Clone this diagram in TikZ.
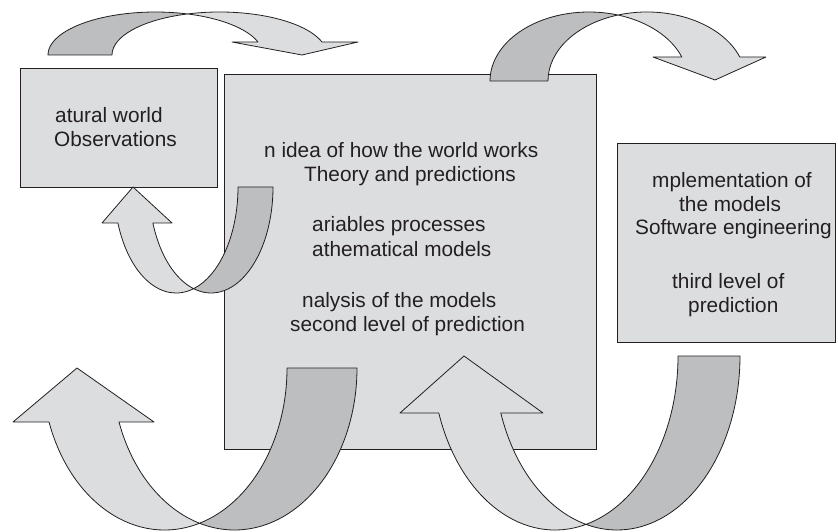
\documentclass[tikz,border=0pt]{standalone}
\usepackage{fontspec}
\setmainfont{Liberation Sans}
\definecolor{boxfill}{HTML}{DCDDDF}
\definecolor{darkfill}{HTML}{BDBEC0}
\definecolor{edge}{HTML}{231F20}
\tikzset{
  boxshape/.style={draw=edge, line width=0.9pt, fill=boxfill, rectangle, inner sep=0pt},
  darkpart/.style={draw=edge, line width=0.8pt, fill=darkfill, line join=round},
  lightpart/.style={draw=edge, line width=0.8pt, fill=boxfill, line join=round},
  lbl/.style={anchor=base west, inner sep=0pt, font=\fontsize{20.8}{24}\selectfont, text=edge}
}
% curved arrow over the top: tail bottom-left, head right pointing down
% #1 x0 (tail outer), #2 width, #3 cy, #4 rx, #5 ry, #6 head base y, #7 left barb x, #8 right barb x, #9 tip
\newcommand\overarrow[9]{%
  \pgfmathsetmacro\cL{#1+#4}%
  \pgfmathsetmacro\ph{acos(#2/(2*#4))}%
  \pgfmathsetmacro\phR{180-\ph}%
  \pgfmathsetmacro\th{asin((#6-#3)/#5)}%
  \filldraw[darkpart] (#1,#3) arc[start angle=180,end angle=\ph,x radius=#4,y radius=#5]
     arc[start angle=\phR,end angle=180,x radius=#4,y radius=#5] -- cycle;
  \filldraw[lightpart] ([shift={(\cL,#3)}]\ph:#4 and #5)
     arc[start angle=\phR,end angle=\th,x radius=#4,y radius=#5]
     -- (#8,#6) -- (#9) -- (#7,#6) -- ([shift={(\cL,#3)}]\th:#4 and #5)
     arc[start angle=\th,end angle=\ph,x radius=#4,y radius=#5] -- cycle;
}
% curved arrow under the bottom: tail top-right, head left pointing up
% #1 xo (tail outer right), #2 width, #3 cy, #4 rx, #5 ry, #6 head base y, #7 left barb x, #8 right barb x, #9 tip
\newcommand\underarrow[9]{%
  \pgfmathsetmacro\cA{#1-#4}%
  \pgfmathsetmacro\ph{acos(#2/(2*#4))}%
  \pgfmathsetmacro\phA{\ph-180}%
  \pgfmathsetmacro\phB{-\ph}%
  \pgfmathsetmacro\th{asin((#3-#6)/#5)-180}%
  \filldraw[darkpart] (#1,#3) arc[start angle=0,end angle=\phA,x radius=#4,y radius=#5]
     arc[start angle=\phB,end angle=0,x radius=#4,y radius=#5] -- cycle;
  \filldraw[lightpart] ([shift={(\cA,#3)}]\phA:#4 and #5)
     arc[start angle=\phB,end angle=\th,x radius=#4,y radius=#5]
     -- (#7,#6) -- (#9) -- (#8,#6) -- ([shift={(\cA,#3)}]\th:#4 and #5)
     arc[start angle=\th,end angle=\phA,x radius=#4,y radius=#5] -- cycle;
}
\begin{document}
\begin{tikzpicture}[x=1pt,y=1pt]
\useasboundingbox (0,0) rectangle (838,531);
% boxes
\node[boxshape, minimum width=197pt, minimum height=119pt] (natural) at (118.5,403.5) {};
\node[boxshape, minimum width=372pt, minimum height=375pt] (theory) at (410,269.5) {};
\node[boxshape, minimum width=218pt, minimum height=199pt] (impl) at (726,288.5) {};
% texts
\node[lbl] (t1) at (55,408) {atural world};
\node[lbl] (t2) at (54,384) {Observations};
\node[lbl] (t3) at (264,373.5) {n idea of how the world works};
\node[lbl] (t4) at (304,349.5) {Theory and predictions};
\node[lbl] (t5) at (312,299.5) {ariables processes};
\node[lbl] (t6) at (312,274.5) {athematical models};
\node[lbl] (t7) at (302,224) {nalysis of the models};
\node[lbl] (t8) at (290,200) {second level of prediction};
\node[lbl] (t9) at (652,343) {mplementation of};
\node[lbl] (t10) at (679,319) {the models};
\node[lbl] (t11) at (635,296) {Software engineering};
\node[lbl] (t12) at (672,243) {third level of};
\node[lbl] (t13) at (688,219) {prediction};
% arrows
\overarrow{48}{64}{476}{107.5}{43}{489}{232}{358}{302,476}
\overarrow{490}{58}{450}{99}{69}{474}{653}{766}{715,451}
\underarrow{273}{35}{344}{61.9}{106}{308}{102}{172}{133,344}
\underarrow{357}{70}{163}{122.5}{162}{109}{13}{154}{77,163}
\underarrow{740}{62}{175}{123}{174}{118}{400}{543}{464,175}
\end{tikzpicture}
\end{document}
